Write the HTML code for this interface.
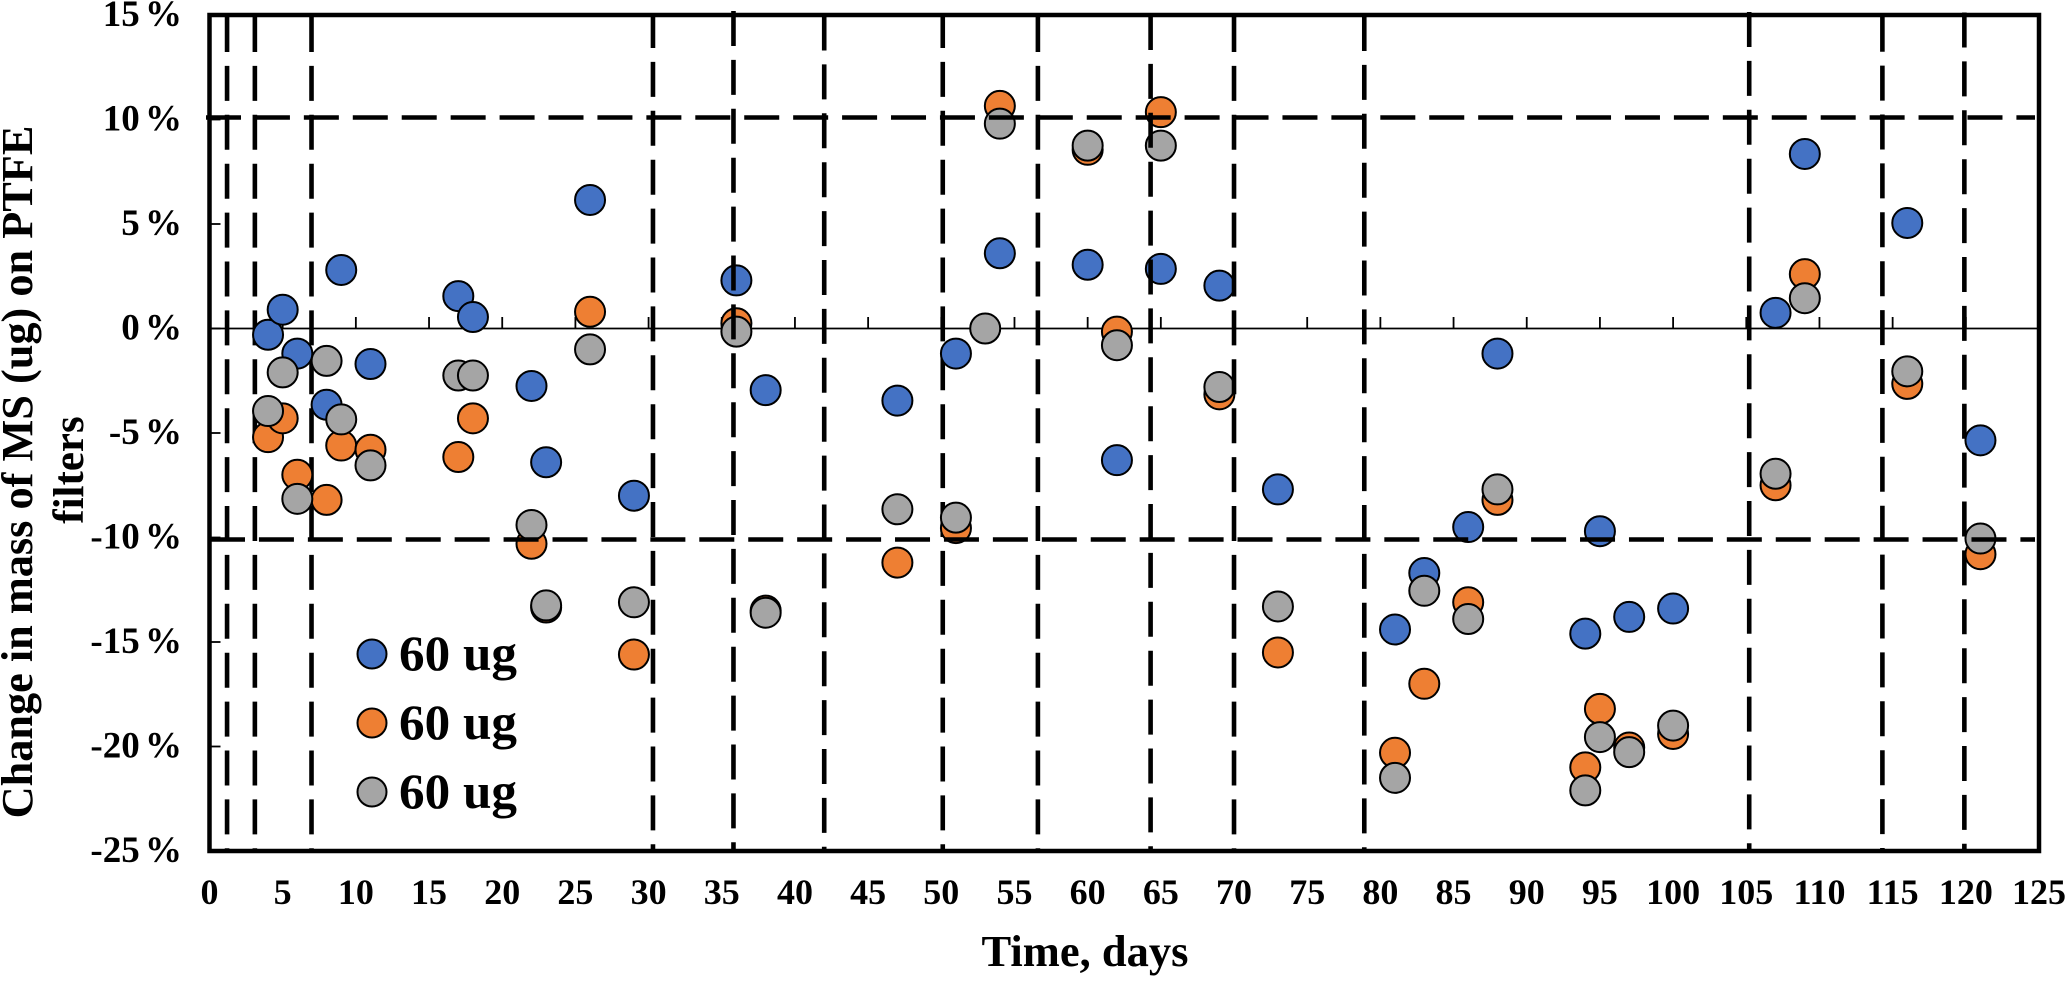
<!DOCTYPE html>
<html lang="en">
<head>
<meta charset="utf-8">
<title>Change in mass of MS on PTFE filters</title>
<style>
  html, body { margin: 0; padding: 0; background: #ffffff; }
  svg { display: block; }
  text { font-family: "Liberation Serif", serif; font-weight: 700; fill: #000; }
</style>
</head>
<body>
<svg id="chart" xmlns="http://www.w3.org/2000/svg" width="2067" height="981" viewBox="0 0 2067 981"></svg>
<script>
const days = [4,5,6,8,9,11,17,18,22,23,26,29,36,38,47,51,54,60,62,65,69,73,81,83,86,88,94,95,97,100,107,109,116,121];
const blueValues = [-0.3,0.9,-1.2,-3.65,2.8,-1.7,1.55,0.55,-2.75,-6.4,6.15,-8.0,2.3,-2.95,-3.45,-1.2,3.6,3.05,-6.3,2.85,2.05,-7.7,-14.4,-11.7,-9.5,-1.2,-14.6,-9.7,-13.8,-13.4,0.75,8.35,5.05,-5.35];
const orangeValues = [-5.2,-4.3,-7.0,-8.2,-5.6,-5.8,-6.15,-4.3,-10.3,-13.35,0.8,-15.6,0.25,-13.5,-11.2,-9.55,10.65,8.55,-0.15,10.35,-3.15,-15.5,-20.3,-17.0,-13.1,-8.2,-21.0,-18.2,-20.05,-19.4,-7.5,2.6,-2.65,-10.8];
const grayValues = [-3.95,-2.1,-8.15,-1.55,-4.35,-6.55,-2.25,-2.25,-9.4,-13.25,-1.0,-13.1,-0.15,-13.6,-8.65,-9.05,9.8,8.75,-0.8,8.75,-2.8,-13.3,-21.5,-12.55,-13.9,-7.7,-22.1,-19.55,-20.27,-19.0,-6.95,1.45,-2.05,-10.05];
const extraGrayDays = [53];
const extraGrayValues = [0];
const xTickLabels = [0,5,10,15,20,25,30,35,40,45,50,55,60,65,70,75,80,85,90,95,100,105,110,115,120,125];
const yTickLabels = [15,10,5,0,-5,-10,-15,-20,-25];
const verticalRefDays = [1.2,3.1,6.97,30.3,35.8,42,50.1,56.6,64.3,70,78.9,105.2,114.3,119.9];
const horizontalRefValues = [10,-10];
const legendLabels = ["60 ug","60 ug","60 ug"];

const NS = "http://www.w3.org/2000/svg";
const svg = document.getElementById("chart");
const plot = { left: 209.5, right: 2039, top: 15, bottom: 851 };
const xMin = 0, xMax = 125, yMin = -25, yMax = 15;
const colors = { blue: "#4472C4", orange: "#EE7F33", gray: "#A5A5A5" };

function xScale(d) { return plot.left + (d - xMin) / (xMax - xMin) * (plot.right - plot.left); }
function yScale(v) { return plot.bottom - (v - yMin) / (yMax - yMin) * (plot.bottom - plot.top); }

function make(tag, attrs, parent) {
  const el = document.createElementNS(NS, tag);
  for (const k in attrs) el.setAttribute(k, attrs[k]);
  (parent || svg).appendChild(el);
  return el;
}
function group() { return make("g", {}); }

// dash phases and stacking for the hand-drawn style reference lines (layout only)
const dashStarts = [17,17,17,13,11,15.5,13,17,15,17,16,12,16.7,12.5];
const underMarkers = [0,1,2,6,13];

function drawVertical(i, parent) {
  const x = xScale(verticalRefDays[i]);
  const line = make("line", { x1: x, x2: x, y1: dashStarts[i], y2: 849, stroke: "#000", "stroke-width": 4.6, "stroke-dasharray": "35 13.9" }, parent);
  
  
}

// Underlay
const under = group();



const zero = make("line", { x1: plot.left, x2: plot.right, y1: yScale(0), y2: yScale(0), stroke: "#000", "stroke-width": 1.8 }, under);



xTickLabels.forEach(function (d) {
  const t = make("line", { x1: xScale(d), x2: xScale(d), y1: yScale(0), y2: yScale(0) - 11.5, stroke: "#000", "stroke-width": 1.8 }, under);
  
  
  const l = make("text", { x: xScale(d), y: 904, "text-anchor": "middle", "font-size": 36 }, under);
  l.textContent = d;
  
  
});

yTickLabels.forEach(function (v) {
  const t = make("line", { x1: plot.left, x2: plot.left + 11, y1: yScale(v), y2: yScale(v), stroke: "#000", "stroke-width": 1.8 }, under);
  
  
  const l = make("text", { x: 182, y: yScale(v) + 11, "text-anchor": "end", "font-size": 37, "word-spacing": "-4px" }, under);
  l.textContent = v + " %";
  
  
});

// Some vertical reference lines sit beneath the markers
underMarkers.forEach(function (i) { drawVertical(i, under); });

// Series
function drawSeries(name, color, xs, ys) {
  const g = group();
  
  
  xs.forEach(function (d, i) {
    const c = make("circle", { cx: xScale(d), cy: yScale(ys[i]), r: 15, fill: color, stroke: "#000", "stroke-width": 2 }, g);
    
    
  });
}
drawSeries("blue", colors.blue, days, blueValues);
drawSeries("orange", colors.orange, days, orangeValues);
drawSeries("gray", colors.gray, days.concat(extraGrayDays), grayValues.concat(extraGrayValues));

// Overlay reference lines
const over = group();


verticalRefDays.forEach(function (d, i) { if (underMarkers.indexOf(i) < 0) drawVertical(i, over); });

const hStarts = [206, 210];
horizontalRefValues.forEach(function (v, i) {
  const y = yScale(v) + (v > 0 ? -2 : 2);
  const h = make("line", { x1: hStarts[i], x2: 2035, y1: y, y2: y, stroke: "#000", "stroke-width": 4.6, "stroke-dasharray": "35 13.93" }, over);
  
  
});

// Plot frame
const frame = make("rect", { x: plot.left, y: plot.top, width: plot.right - plot.left, height: plot.bottom - plot.top, fill: "none", stroke: "#000", "stroke-width": 4.5 });



// Legend
const legendColors = [colors.blue, colors.orange, colors.gray];
const legendCy = [654, 723, 792];
const legend = group();


legendLabels.forEach(function (label, i) {
  const c = make("circle", { cx: 372, cy: legendCy[i], r: 14.5, fill: legendColors[i], stroke: "#000", "stroke-width": 2 }, legend);
  
  
  const t = make("text", { x: 399, y: legendCy[i] + 16, "font-size": 50, textLength: 118, lengthAdjust: "spacingAndGlyphs" }, legend);
  t.textContent = label;
  
  
});

// Axis titles
const xTitle = make("text", { x: 1085, y: 966, "text-anchor": "middle", "font-size": 44.5 });
xTitle.textContent = "Time, days";



const yTitle1 = make("text", { x: 0, y: 0, "text-anchor": "middle", "font-size": 44.3, transform: "translate(32,472) rotate(-90)" });
yTitle1.textContent = "Change in mass of MS (ug) on PTFE";



const yTitle2 = make("text", { x: 0, y: 0, "text-anchor": "middle", "font-size": 43, transform: "translate(83,470) rotate(-90)" });
yTitle2.textContent = "filters";


</script>
</body>
</html>
